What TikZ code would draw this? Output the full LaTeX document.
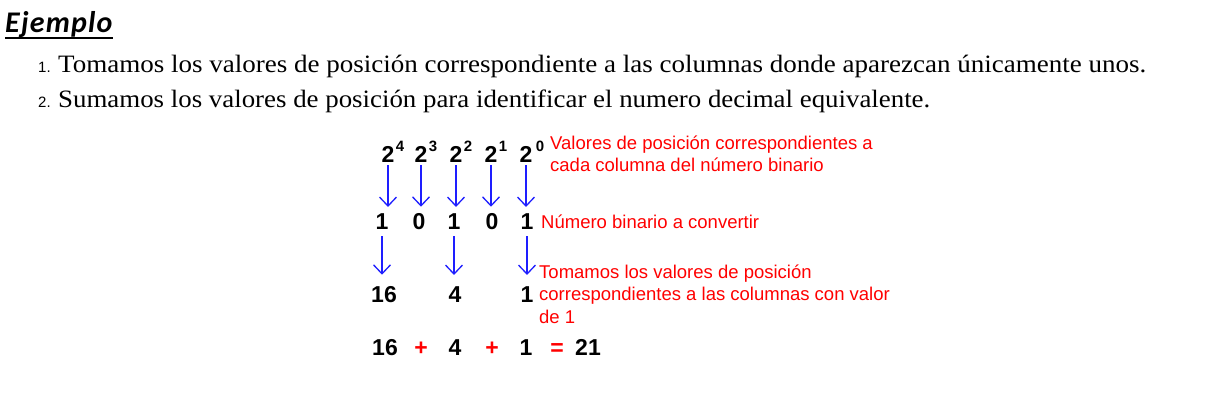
\documentclass[tikz,border=0pt]{standalone}
\usepackage{fontspec}
\usepackage{graphicx}
\setmainfont{Liberation Serif}
\newfontfamily\arialf{Liberation Sans}
\newfontfamily\calif[LetterSpace=4]{Carlito}
\usetikzlibrary{arrows.meta}
\definecolor{blueA}{RGB}{30,30,255}
\definecolor{redA}{RGB}{255,0,0}
\begin{document}
\begin{tikzpicture}[x=1pt,y=-1pt,
  titlet/.style={font=\calif\bfseries\itshape\fontsize{30}{36}\selectfont, inner sep=0, anchor=base west},
  num/.style={font=\arialf\fontsize{15}{18}\selectfont, inner sep=0, anchor=base west},
  item/.style={font=\fontsize{25}{28}\selectfont, inner sep=0, anchor=base west},
  dig/.style={font=\arialf\bfseries\fontsize{23}{26}\selectfont, inner sep=0, anchor=base},
  sup/.style={font=\arialf\bfseries\fontsize{15}{16}\selectfont, inner sep=0, anchor=base west},
  op/.style={dig, text=redA},
  note/.style={font=\arialf\fontsize{18.5}{22}\selectfont, text=redA, inner sep=0, anchor=base west},
  arr/.style={draw=blueA, line width=1.3pt, -{Straight Barb[length=9pt,width=17pt]}},
]
\fill[white] (0,0) rectangle (1206,416);
\useasboundingbox (0,0) rectangle (1206,416);

% title
\node[titlet] (t) at (5,32) {Ejemplo};
\draw[line width=2.8pt] ([yshift=-6pt]t.base west) -- ([yshift=-6pt]t.base east);

% list
\node[num] (n1) at (38,72) {1.};
\node[item] (i1) at (58,72) {\resizebox{1088pt}{\height}{Tomamos los valores de posición correspondiente a las columnas donde aparezcan únicamente unos.}};
\node[num] (n2) at (38,107) {2.};
\node[item] (i2) at (58,107) {\resizebox{872pt}{\height}{Sumamos los valores de posición para identificar el numero decimal equivalente.}};

% powers
\node[dig] (p4) at (388,162) {2};
\node[dig] (p3) at (421,162) {2};
\node[dig] (p2) at (456,162) {2};
\node[dig] (p1) at (491,162) {2};
\node[dig] (p0) at (526,162) {2};
\node[sup] (e4) at ([xshift=1pt,yshift=11pt]p4.base east) {4};
\node[sup] (e3) at ([xshift=1pt,yshift=11pt]p3.base east) {3};
\node[sup] (e2) at ([xshift=1pt,yshift=11pt]p2.base east) {2};
\node[sup] (e1) at ([xshift=1pt,yshift=11pt]p1.base east) {1};
\node[sup] (e0) at ([xshift=3pt,yshift=11pt]p0.base east) {0};

% binary digits
\node[dig] (b4) at (382,229) {1};
\node[dig] (b3) at (419,229) {0};
\node[dig] (b2) at (454,229) {1};
\node[dig] (b1) at (492,229) {0};
\node[dig] (b0) at (527,229) {1};

% selected values
\node[dig] (c4) at (384,302) {16};
\node[dig] (c2) at (455,302) {4};
\node[dig] (c0) at (527,302) {1};

% sum
\node[dig] (s16) at (385,355) {16};
\node[op]  (pl1) at (421,355) {+};
\node[dig] (s4)  at (455,355) {4};
\node[op]  (pl2) at (492,355) {+};
\node[dig] (s1)  at (526,355) {1};
\node[op]  (eq)  at (557,355) {=};
\node[dig] (res) at (588,355) {21};

% arrows
\foreach \i in {4,3,2,1,0}
  \draw[arr, shorten <=3pt, shorten >=6pt] (p\i.south) -- (p\i.south |- b\i.north);
\foreach \i in {4,2,0}
  \draw[arr, shorten <=7pt, shorten >=11pt] (b\i.south) -- (b\i.south |- c\i.north);

% notes
\node[note] (m1) at (550,149) {\vtop{\baselineskip=22pt\hbox{Valores de posición correspondientes a}\hbox{cada columna del número binario}}};
\node[note] (m2) at (541,228) {Número binario a convertir};
\node[note] (m3) at (539,278) {\vtop{\baselineskip=22.5pt\hbox{Tomamos los valores de posición}\hbox{correspondientes a las columnas con valor}\hbox{de 1}}};
\end{tikzpicture}
\end{document}
